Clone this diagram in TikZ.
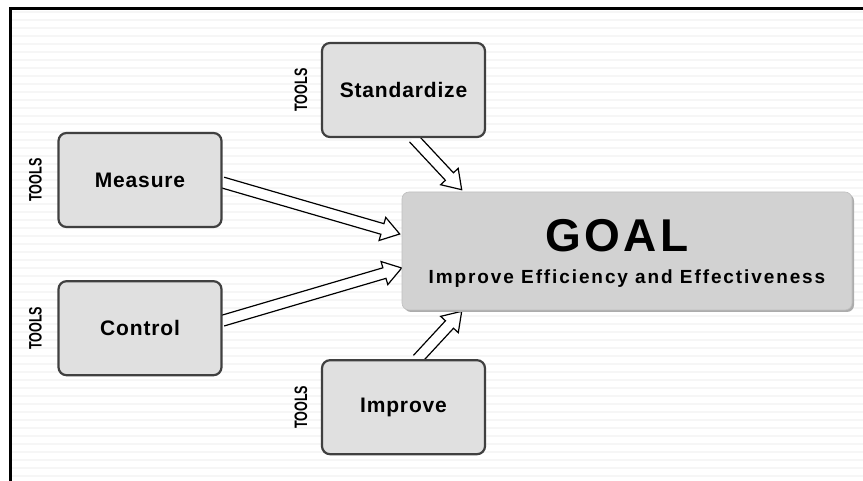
\documentclass[tikz,border=0pt]{standalone}
\usepackage{fontspec}
\setmainfont{Liberation Sans}
\newfontfamily\goalfont{Liberation Sans}[LetterSpace=7]
\newfontfamily\subtitlefont{Liberation Sans}[LetterSpace=10]
\newfontfamily\labelfont{Liberation Sans}[LetterSpace=4]
\newfontfamily\toolsfont{Liberation Sans}[FakeStretch=0.7]
\usetikzlibrary{calc, positioning, shadows, backgrounds}

\tikzset{
  actbox/.style={draw=black!75, line width=2.2pt, fill=gray!24, rounded corners=8pt, minimum width=163pt, minimum height=94pt, inner sep=0pt, font=\labelfont\bfseries\fontsize{21}{24}\selectfont},
  goalbox/.style={draw=gray!50, line width=0.6pt, fill=gray!35, rounded corners=7pt, minimum width=450pt, minimum height=118pt, drop shadow={shadow xshift=2pt, shadow yshift=-2pt, fill=gray!65, opacity=1}},
  tools/.style={rotate=90, inner sep=0pt, font=\toolsfont\bfseries\fontsize{18}{18}\selectfont},
  blockarrow/.style={draw=black, line width=1.2pt, fill=white, line join=miter},
  stripe/.style={draw=gray!7, line width=1.5pt},
  frame/.style={line width=3pt}
}

% open block arrow from #1 to the tip #2
\newcommand{\hollowarrow}[2]{%
  \coordinate (ha) at (#1);
  \coordinate (hb) at (#2);
  \coordinate (hh) at ($(hb)!18pt!(ha)$);
  \filldraw[blockarrow] ($(ha)!5.5pt!90:(hb)$) -- ($(hh)!5.5pt!90:(hb)$) -- ($(hh)!12pt!90:(hb)$) -- (hb)
    -- ($(hh)!12pt!-90:(hb)$) -- ($(hh)!5.5pt!-90:(hb)$) -- ($(ha)!5.5pt!-90:(hb)$);
}

\begin{document}
\begin{tikzpicture}[x=1pt, y=1pt]
\useasboundingbox (0,0) rectangle (863,481);

\node[actbox] (meas) at (140,301) {Measure};
\node[actbox, below=52pt of meas] (ctrl) {Control};
\node[actbox] (std) at (403.5,391) {Standardize};
\node[actbox, below=221pt of std] (imp) {Improve};
\node[goalbox] (goal) at (627,230) {};

\node[anchor=base, font=\goalfont\bfseries\fontsize{46}{46}\selectfont] (goaltitle) at ([xshift=-10, yshift=-1]goal.center) {GOAL};
\node[anchor=base, font=\subtitlefont\bfseries\fontsize{19}{22}\selectfont] (goalsub) at ([yshift=-33]goal.center) {Improve Efficiency and Effectiveness};

\node[tools] (meastools) at ([xshift=-22]meas.west) {TOOLS};
\node[tools] (ctrltools) at ([xshift=-22]ctrl.west) {TOOLS};
\node[tools] (stdtools) at ([xshift=-20]std.west) {TOOLS};
\node[tools] (imptools) at ([xshift=-20]imp.west) {TOOLS};

\begin{pgfonlayer}{background}
\foreach \y in {5,13,...,469}
  \draw[stripe] (12,\y) -- (863,\y);
\hollowarrow{[yshift=-2.5]meas.east}{[xshift=-2, yshift=17]goal.west}
\hollowarrow{[yshift=7.5]ctrl.east}{[yshift=-17]goal.west}
\hollowarrow{[xshift=10]std.south}{[xshift=60, yshift=2]goal.north west}
\hollowarrow{[xshift=14]imp.north}{[xshift=60, yshift=-1]goal.south west}
\end{pgfonlayer}

\draw[frame] (10,0) |- (863,472);
\end{tikzpicture}
\end{document}
